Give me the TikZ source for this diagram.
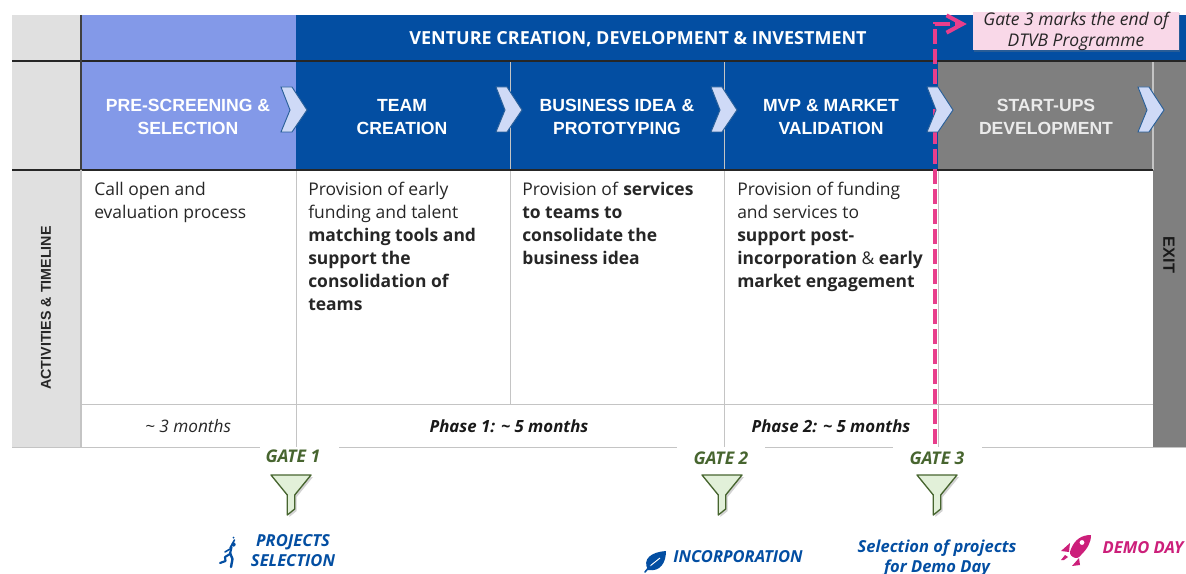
\documentclass[tikz,border=0pt]{standalone}
\usepackage{fontspec}
\setmainfont{Open Sans}
\newfontfamily\hdfont{Liberation Sans}
\usetikzlibrary{arrows.meta,shadows,calc}
\definecolor{lightblue}{HTML}{8399E8}
\definecolor{navy}{HTML}{034EA2}
\definecolor{midgrey}{HTML}{7F7F7F}
\definecolor{lightgrey}{HTML}{E0E0E0}
\definecolor{rulegrey}{HTML}{C4C4C4}
\definecolor{chevfill}{HTML}{CFDAF7}
\definecolor{chevline}{HTML}{2A6099}
\definecolor{pinkline}{HTML}{E83E8C}
\definecolor{pinkbox}{HTML}{F9D8E8}
\definecolor{gategreen}{HTML}{47652F}
\definecolor{funnelfill}{HTML}{E2F0D9}
\definecolor{magenta}{HTML}{CC1F7A}
\tikzset{
  x=0.75pt,y=-0.75pt,
  band/.style={fill=#1,draw=none},
  blackrule/.style={draw=black!85,line width=1.2pt},
  greyrule/.style={draw=rulegrey,line width=0.7pt},
  head/.style={text=white,font=\hdfont\bfseries\fontsize{13.2}{16.6}\selectfont,align=center,inner sep=0pt},
  body/.style={font=\fontsize{13.1}{17.25}\selectfont,align=left,anchor=north west,inner sep=0pt,text=black!85},
  dur/.style={font=\itshape\fontsize{12.9}{14}\selectfont,inner sep=0pt,text=black!85},
  durb/.style={font=\itshape\bfseries\fontsize{12.6}{14}\selectfont,inner sep=0pt,text=black!90},
  gatelabel/.style={font=\itshape\bfseries\fontsize{13.1}{14}\selectfont,text=gategreen,inner sep=2pt},
  mile/.style={font=\itshape\bfseries\fontsize{12.4}{15}\selectfont,text=navy,align=center,inner sep=0pt},
  chev/.style={fill=chevfill,draw=chevline,line width=0.7pt,line join=miter},
  funnel/.style={fill=funnelfill,draw=gategreen,line width=1pt,line join=round,
     drop shadow={opacity=0.35,shadow xshift=1.5pt,shadow yshift=-1.5pt}},
}
\newcommand{\chevron}[2]{%
  \path[chev] (#1,#2) ++(-13,-23) -- ++(11,0) -- ++(15,23) -- ++(-15,22) -- ++(-11,0) -- ++(9,-22) -- cycle;}
\newcommand{\funnelshape}[2]{%
  \path[funnel] (#1,#2) ++(-20,0) -- ++(40,0) -- ++(-16.3,20) -- ++(0,14) -- ++(-7.4,6) -- ++(0,-20) -- cycle;}
\begin{document}
\begin{tikzpicture}
\useasboundingbox (0,0) rectangle (1186,574);
% backgrounds
\path[band=lightgrey] (12,15) rectangle (81,447);
\path[band=lightblue] (81,15) rectangle (296,170);
\path[band=navy] (296,15) rectangle (1186,61);
\path[band=navy] (296,61) rectangle (938,170);
\path[band=midgrey] (938,61) rectangle (1153,170);
\path[band=midgrey] (1153,61) rectangle (1186,447);
% table rules
\draw[greyrule] (296,170) -- (296,447);
\draw[greyrule] (510,61) -- (510,404);
\draw[greyrule] (724,61) -- (724,447);
\draw[greyrule] (938,170) -- (938,447);
\draw[greyrule] (81,404) -- (1153,404);
\draw[greyrule] (12,447.5) -- (260,447.5);
\draw[greyrule] (339,447.5) -- (677,447.5);
\draw[greyrule] (765,447.5) -- (893,447.5);
\draw[greyrule] (982,447.5) -- (1186,447.5);
\draw[draw=rulegrey,line width=1.2pt] (1153,61) -- (1153,170);
\draw[blackrule] (12,61) -- (1186,61);
\draw[blackrule] (12,170) -- (1153,170);
\draw[draw=black!75,line width=1.4pt] (81,15) -- (81,170);
\draw[draw=rulegrey,line width=1.2pt] (81,170) -- (81,447);
% headers
\node[text=white,font=\fontsize{13.5}{15}\selectfont\bfseries,inner sep=0pt] (venture) at (638,39) {VENTURE CREATION, DEVELOPMENT \& INVESTMENT};
\node[head] (h1) at (188,117) {PRE-SCREENING \&\\SELECTION};
\node[head] (h2) at (402,117) {TEAM\\CREATION};
\node[head] (h3) at (617,117) {BUSINESS IDEA \&\\PROTOTYPING};
\node[head] (h4) at (831,117) {MVP \& MARKET\\VALIDATION};
\node[head,text=white!92!black] (h5) at (1046,117) {START-UPS\\DEVELOPMENT};
% callout and gate-3 line, under the chevrons
\node[fill=pinkbox,inner sep=0pt,minimum width=154.5pt,minimum height=28.5pt,
      font=\itshape\fontsize{13.1}{15.8}\selectfont,align=center,text=black!85,
      drop shadow={opacity=0.3,shadow xshift=1pt,shadow yshift=-1pt}] (note) at (1076,31) {Gate 3 marks the end of\\DTVB Programme};
\coordinate (gatetop) at (935,444);
\coordinate (bend) at (935,24);
\coordinate (tipend) at ($(note.west |- bend)+(-6,0)$);
\draw[pinkline,line width=3pt,dash pattern=on 11pt off 4pt,-{Straight Barb[length=12pt,width=13pt,line width=3pt]}] (gatetop) -- (bend) -- (tipend);
\chevron{294}{110}
\chevron{509}{110}
\chevron{724}{110}
\chevron{940}{110}
\chevron{1151}{110}
% body
\node[body] (b1) at (94,182) {Call open and\\evaluation process};
\node[body] (b2) at (308,182) {Provision of early\\funding and talent\\\textbf{matching tools and}\\\textbf{support the}\\\textbf{consolidation of}\\\textbf{teams}};
\node[body] (b3) at (522,182) {Provision of \textbf{services}\\\textbf{to teams to}\\\textbf{consolidate the}\\\textbf{business idea}};
\node[body] (b4) at (737,182) {Provision of funding\\and services to\\\textbf{support post-}\\\textbf{incorporation} \& \textbf{early}\\\textbf{market engagement}};
\node[font=\hdfont\bfseries\fontsize{10.7}{12}\selectfont,rotate=90,inner sep=0pt,text=black!85] (act) at (46,308) {ACTIVITIES \& TIMELINE};
\node[font=\hdfont\bfseries\fontsize{12.2}{14}\selectfont,rotate=-90,inner sep=0pt,text=black!90] (exit) at (1169,255) {EXIT};
\node[dur] (d1) at (188,426) {\textasciitilde{} 3 months};
\node[durb] (d2) at (509,426) {Phase 1: \textasciitilde{} 5 months};
\node[durb] (d3) at (831,426) {Phase 2: \textasciitilde{} 5 months};
% gates
\node[gatelabel] (g1) at (293,456) {GATE 1};
\node[gatelabel] (g2) at (721,458) {GATE 2};
\node[gatelabel] (g3) at (937,458) {GATE 3};
\funnelshape{291}{475}
\funnelshape{722}{475}
\funnelshape{937}{475}
% milestones
\node[mile] (m1) at (293,551) {PROJECTS\\SELECTION};
\node[mile] (m2) at (738,557) {INCORPORATION};
\node[mile] (m3) at (937,558) {Selection of projects\\for Demo Day};
\node[mile,text=magenta] (m4) at (1143,548) {DEMO DAY};
% runner icon
\begin{scope}[shift={(219,536)}]
\fill[navy] (14.5,8.5) circle (2.2);
\fill[navy] (14.5,1.5) circle (1);
\draw[navy,line width=1.6pt,line cap=round,line join=round] (12.5,11) -- (11,18) -- (6,21) -- (6.5,25) -- (1,27);
\draw[navy,line width=1.8pt,line cap=round,line join=round] (11,17) -- (13.5,23) -- (12,31);
\draw[navy,line width=1.2pt,line cap=round] (11,12) -- (15.5,4);
\draw[navy,line width=1.2pt,line cap=round] (11,13) -- (6,16);
\end{scope}
% leaf icon
\begin{scope}[shift={(645,551)}]
\fill[navy] (3,19) .. controls (-3,8) and (6,1) .. (21,0) .. controls (21,12) and (15,21) .. (3,19) -- cycle;
\draw[white,line width=0.7pt] (5,15) -- (15,7);
\draw[navy,line width=1.2pt,line cap=round] (0,21) -- (5,15);
\end{scope}
% rocket icon
\begin{scope}[shift={(1060,535)}]
\fill[magenta] (31,0) .. controls (22,0) and (15,4) .. (11,14) .. controls (9,18) and (10,20) .. (13,22) .. controls (16,24) and (19,23) .. (21,20) .. controls (27,14) and (31,8) .. (31,0) -- cycle;
\fill[white] (22,7.5) circle (2.4);
\fill[magenta] (10,8) -- (1,16) -- (9,17) -- cycle;
\fill[magenta] (19,23) -- (12,31) -- (20,30) -- cycle;
\fill[magenta] (5,20) -- (1,25) -- (4,25) -- (8,22) -- cycle;
\end{scope}
\end{tikzpicture}
\end{document}
